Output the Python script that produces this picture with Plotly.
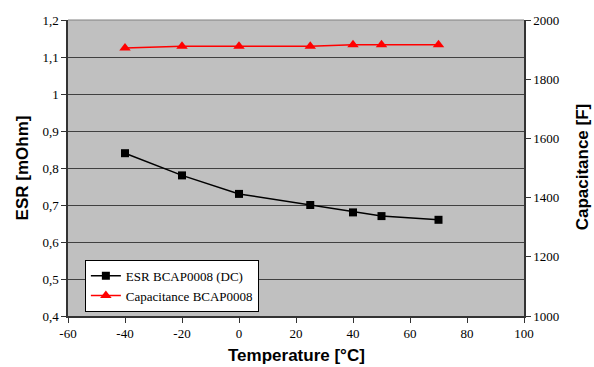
import plotly.graph_objects as go

temps = [-40, -20, 0, 25, 40, 50, 70]
esr = [0.84, 0.78, 0.73, 0.70, 0.68, 0.67, 0.66]
cap = [1905, 1911, 1911, 1911, 1916, 1916, 1916]

x_ticks = [-60, -40, -20, 0, 20, 40, 60, 80, 100]
x_labels = ["-60", "-40", "-20", "0", "20", "40", "60", "80", "100"]
y1_ticks = [0.4, 0.5, 0.6, 0.7, 0.8, 0.9, 1.0, 1.1, 1.2]
y1_labels = ["0,4", "0,5", "0,6", "0,7", "0,8", "0,9", "1", "1,1", "1,2"]
y2_ticks = [1000, 1200, 1400, 1600, 1800, 2000]

fig = go.Figure()
fig.add_trace(go.Scatter(x=temps, y=esr, name="ESR BCAP0008 (DC)", mode="lines+markers",
                         line=dict(color="black", width=1.5),
                         marker=dict(symbol="square", size=8, color="black")))
fig.add_trace(go.Scatter(x=temps, y=cap, name="Capacitance BCAP0008", mode="lines+markers",
                         yaxis="y2", line=dict(color="red", width=1.5),
                         marker=dict(symbol="triangle-up", size=10, color="red")))

serif = "Liberation Serif"
tickfont = dict(family=serif, size=13, color="black")
titlefont = dict(family="Liberation Sans", size=17, color="black", weight="bold")

fig.update_layout(
    width=594, height=367,
    margin=dict(l=68, r=70, t=20, b=51, autoexpand=False),
    paper_bgcolor="white", plot_bgcolor="#C0C0C0",
    showlegend=True,
    legend=dict(x=0.037, y=0.19, xanchor="left", yanchor="top",
                bgcolor="white", bordercolor="black", borderwidth=1,
                font=dict(family=serif, size=13, color="black"),
                tracegroupgap=0, itemwidth=30),
    xaxis=dict(range=[-60, 100], tickvals=x_ticks, ticktext=x_labels, ticks="outside", ticklen=5,
               tickcolor="#333", showline=True, linecolor="#333", linewidth=1.5,
               showgrid=False, zeroline=False, tickfont=tickfont, automargin=False),
    yaxis=dict(range=[0.4, 1.2], tickvals=y1_ticks, ticktext=y1_labels, ticks="outside",
               ticklen=5, tickcolor="#333", showline=True, linecolor="#333", linewidth=1.5,
               showgrid=True, gridcolor="#404040", gridwidth=1, zeroline=False,
               tickfont=tickfont, automargin=False),
    yaxis2=dict(range=[1000, 2000], tickvals=y2_ticks, overlaying="y", side="right",
                ticks="outside", ticklen=5, tickcolor="#333", showline=True,
                linecolor="#333", linewidth=1.5, showgrid=False, zeroline=False,
                tickfont=tickfont, automargin=False),
    annotations=[
        dict(text="Temperature [°C]", xref="paper", yref="paper", x=0.5, y=-0.132,
             xanchor="center", yanchor="middle", showarrow=False, font=titlefont),
        dict(text="ESR [mOhm]", xref="paper", yref="paper", x=-0.1, y=0.5,
             xanchor="center", yanchor="middle", textangle=-90, showarrow=False, font=titlefont),
        dict(text="Capacitance [F]", xref="paper", yref="paper", x=1.129, y=0.505,
             xanchor="center", yanchor="middle", textangle=-90, showarrow=False, font=titlefont),
    ],
)
fig.add_shape(type="line", xref="paper", yref="paper", x0=0, x1=1, y0=1, y1=1,
              line=dict(color="#808080", width=1))

fig.write_html("out.html", config={"displayModeBar": False},
               post_script="document.body.style.margin='0';document.body.style.overflow='hidden';")
